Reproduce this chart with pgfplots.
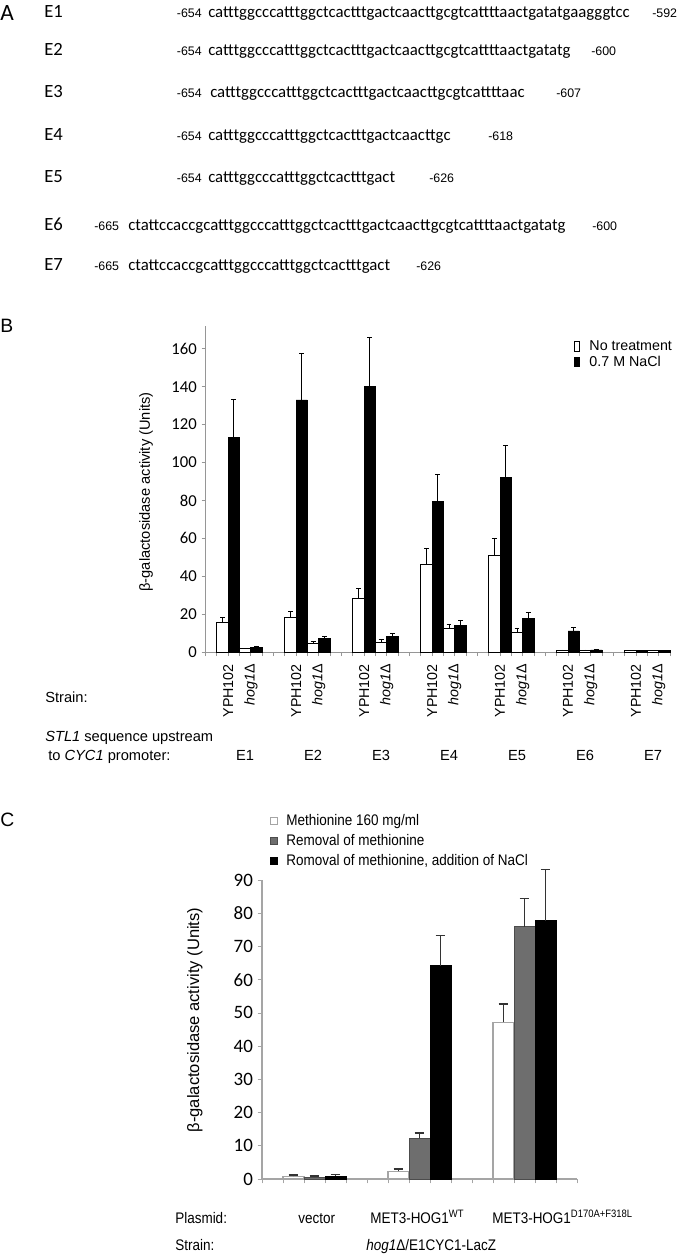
\documentclass[border=0pt]{standalone}
\usepackage{fontspec}
\setmainfont{Liberation Sans}
\newfontfamily\calfont{Carlito}
\newfontfamily\narrowfont{Liberation Sans}[FakeStretch=0.88]
\usepackage{pgfplots}
\pgfplotsset{compat=1.18}
\definecolor{axgray}{RGB}{150,150,150}
\definecolor{midgray}{RGB}{110,110,110}
\definecolor{ltgray}{RGB}{165,165,165}
\newcommand{\fs}[1]{\fontsize{#1}{#1}\selectfont}
\begin{document}
\begin{tikzpicture}
\path[use as bounding box] (0pt,0pt) rectangle (512.25pt,-942.75pt);

% ---------------- Panel B ----------------
\begin{axis}[
  at={(154.125pt,-489pt)}, anchor=south west,
  scale only axis, width=348.375pt, height=244.5pt,
  xmin=0, xmax=41, ymin=0, ymax=172,
  axis x line*=bottom, axis y line*=left,
  axis line style={axgray, line width=0.6pt},
  xtick={0,...,41}, xticklabels={},
  ytick={0,20,...,160},
  tick align=outside, major tick length=3pt,
  tick style={axgray, line width=0.5pt},
  /pgf/number format/assume math mode=true,
  yticklabel style={font=\calfont\fs{12.5}},
  ylabel={β-galactosidase activity (Units)},
  ylabel style={at={(axis description cs:-0.128,0.491)}, anchor=center, font=\fs{11}},
  clip=false,
  legend style={at={(0.785,0.969)}, anchor=north west, draw=none, fill=none,
    font=\fs{10.7}, row sep=0pt, nodes={inner sep=1.2pt},
    /tikz/every odd column/.append style={column sep=6pt}},
  legend cell align=left,
  legend image code/.code={\draw[#1] (0pt,-3.6pt) rectangle (3.6pt,3.6pt);},
]
\addplot[ybar, bar width=1, bar shift=0pt, fill=white, draw=black, line width=0.5pt,
  error bars/.cd, y dir=plus, y explicit,
  error mark=-,
  error bar style={line width=0.6pt, black},
  error mark options={rotate=90, line width=0.6pt, mark size=1.8pt, black}]
  table[x=x, y=y, y error=e] {
x y e
1.5 15.5 2.6
3.5 1.7 0.4
7.5 18.1 3.3
9.5 4.7 0.7
13.5 28.1 5.6
15.5 5.3 1.4
19.5 46.5 8.2
21.5 12.6 2.0
25.5 50.9 9.1
27.5 10.5 1.8
31.5 0.9 0.2
33.5 0.9 0.2
37.5 0.7 0.1
39.5 0.8 0.1
};
\addlegendentry{No treatment}
\addplot[ybar, bar width=1, bar shift=0pt, fill=black, draw=black, line width=0.5pt,
  error bars/.cd, y dir=plus, y explicit,
  error mark=-,
  error bar style={line width=0.6pt, black},
  error mark options={rotate=90, line width=0.6pt, mark size=1.8pt, black}]
  table[x=x, y=y, y error=e] {
x y e
2.5 113.1 20.0
4.5 2.6 0.6
8.5 133.0 24.3
10.5 7.0 1.2
14.5 140.0 25.8
16.5 8.2 1.6
20.5 79.3 14.2
22.5 14.0 2.7
26.5 92.2 16.8
28.5 17.7 3.2
32.5 11.1 1.9
34.5 1.1 0.2
38.5 0.8 0.1
40.5 0.9 0.1
};
\addlegendentry{0.7 M NaCl}
\end{axis}

% ---------------- Panel C ----------------
\begin{axis}[
  at={(196.5pt,-884.25pt)}, anchor=south west,
  scale only axis, width=236.25pt, height=224.25pt,
  xmin=0, xmax=15, ymin=0, ymax=90,
  axis x line*=bottom, axis y line*=left,
  axis line style={ltgray, line width=0.8pt},
  xtick={0,...,15}, xticklabels={},
  ytick={0,10,...,90},
  tick align=outside, major tick length=3.3pt,
  tick style={ltgray, line width=0.6pt},
  /pgf/number format/assume math mode=true,
  yticklabel style={font=\calfont\fs{14.2}},
  ylabel={β-galactosidase activity (Units)},
  ylabel style={at={(axis description cs:-0.213,0.532)}, anchor=center, font=\fs{12.4}},
  clip=false,
  legend style={at={(0.013,1.235)}, anchor=north west, draw=none, fill=none,
    font=\narrowfont\fs{11.5}, row sep=2.8pt, nodes={inner sep=1.2pt},
    /tikz/every odd column/.append style={column sep=5pt}},
  legend cell align=left,
  legend image code/.code={\draw[#1] (0pt,-2.5pt) rectangle (5pt,2.5pt);},
]
\addplot[ybar, bar width=1, bar shift=0pt, fill=white, draw=ltgray, line width=0.8pt,
  error bars/.cd, y dir=plus, y explicit,
  error mark=-,
  error bar style={line width=1.1pt, black!80},
  error mark options={rotate=90, line width=1.1pt, mark size=3.6pt, black!80}]
  table[x=x, y=y, y error=e] {
x y e
1.5 0.8 0.4
6.5 2.3 0.7
11.5 47.2 5.5
};
\addlegendentry{Methionine 160 mg/ml}
\addplot[ybar, bar width=1, bar shift=0pt, fill=midgray, draw=black!70, line width=0.6pt,
  error bars/.cd, y dir=plus, y explicit,
  error mark=-,
  error bar style={line width=1.1pt, black!80},
  error mark options={rotate=90, line width=1.1pt, mark size=3.6pt, black!80}]
  table[x=x, y=y, y error=e] {
x y e
2.5 0.6 0.3
7.5 12.2 1.6
12.5 76.0 8.5
};
\addlegendentry{Removal of methionine}
\addplot[ybar, bar width=1, bar shift=0pt, fill=black, draw=black, line width=0.6pt,
  error bars/.cd, y dir=plus, y explicit,
  error mark=-,
  error bar style={line width=1.1pt, black!80},
  error mark options={rotate=90, line width=1.1pt, mark size=3.6pt, black!80}]
  table[x=x, y=y, y error=e] {
x y e
3.5 0.9 0.5
8.5 64.2 9.1
13.5 77.8 15.4
};
\addlegendentry{Romoval of methionine, addition of NaCl}
\end{axis}

% ---------------- Text ----------------
\begin{scope}[x=0.75pt, y=-0.75pt, every node/.style={inner sep=0pt}]
% Panel A
\node[anchor=base west, font=\calfont\fs{17.5}] at (0,20) {A};
\begin{scope}[every node/.append style={font=\calfont\fs{14}, anchor=base west}]
\node at (44,17) {E1};
\node at (44,55) {E2};
\node at (44,97) {E3};
\node at (44,140) {E4};
\node at (44,182) {E5};
\node at (44,230) {E6};
\node at (44,270) {E7};
\end{scope}
\begin{scope}[every node/.append style={font=\calfont\fs{12.6}, anchor=base west}]
\node at (208,17) {catttggcccatttggctcactttgactcaacttgcgtcattttaactgatatgaagggtcc};
\node at (208,55) {catttggcccatttggctcactttgactcaacttgcgtcattttaactgatatg};
\node at (210,97) {catttggcccatttggctcactttgactcaacttgcgtcattttaac};
\node at (208,140) {catttggcccatttggctcactttgactcaacttgc};
\node at (208,182) {catttggcccatttggctcactttgact};
\node at (128,230) {ctattccaccgcatttggcccatttggctcactttgactcaacttgcgtcattttaactgatatg};
\node at (128,270) {ctattccaccgcatttggcccatttggctcactttgact};
\end{scope}
\begin{scope}[every node/.append style={font=\fs{9.3}}]
\node[anchor=base east] at (202,17) {-654};
\node[anchor=base east] at (202,55) {-654};
\node[anchor=base east] at (202,97) {-654};
\node[anchor=base east] at (202,140) {-654};
\node[anchor=base east] at (202,182) {-654};
\node[anchor=base west] at (94,230) {-665};
\node[anchor=base west] at (94,270) {-665};
\node[anchor=base west] at (652,17) {-592};
\node[anchor=base west] at (591,55) {-600};
\node[anchor=base west] at (556,97) {-607};
\node[anchor=base west] at (488,140) {-618};
\node[anchor=base west] at (429,182) {-626};
\node[anchor=base west] at (592,230) {-600};
\node[anchor=base west] at (416,270) {-626};
\end{scope}
% Panel B labels
\node[anchor=base west, font=\fs{14.5}] at (0,332) {B};
\begin{scope}[every node/.append style={font=\fs{11}}]
\node[anchor=base west] at (45,702) {Strain:};
\node[anchor=base west] at (45,741) {\textit{STL1} sequence upstream};
\node[anchor=base west] at (48,760) {to \textit{CYC1} promoter:};
\foreach \g in {0,...,6} {
  \node[rotate=90, anchor=east, font=\fs{10.7}] at ({205.5+(6*\g+2)*11.33},664) {YPH102};
  \node[rotate=90, anchor=east, font=\fs{10.7}] at ({205.5+(6*\g+4)*11.33},664) {\textit{hog1}Δ};
}
\foreach \g [count=\i] in {0,...,6} {
  \node[anchor=base] at ({205.5+(6*\g+3.5)*11.33},760) {E\i};
}
\end{scope}
% Panel C labels
\node[anchor=base west, font=\fs{14.5}] at (0,826) {C};
\begin{scope}[every node/.append style={font=\narrowfont\fs{11.5}, anchor=base west}]
\node at (175,1223) {Plasmid:};
\node at (298,1223) {vector};
\node at (370,1223) {MET3-HOG1\textsuperscript{WT}};
\node at (492,1223) {MET3-HOG1\textsuperscript{D170A+F318L}};
\node at (175,1250) {Strain:};
\node at (366,1250) {\textit{hog1}Δ/E1CYC1-LacZ};
\end{scope}
\end{scope}
\end{tikzpicture}
\end{document}
